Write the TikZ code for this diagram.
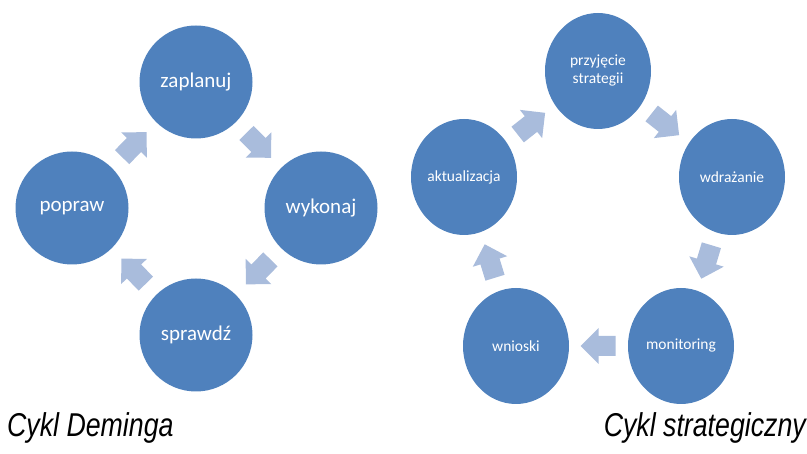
\documentclass[tikz,border=0pt]{standalone}
\usepackage{fontspec}
\setmainfont{Carlito}
\newfontfamily\capfont[FakeStretch=0.81]{Liberation Sans}
\usetikzlibrary{calc,shapes.geometric}
\definecolor{circblue}{HTML}{4F81BD}
\definecolor{arrblue}{HTML}{A9BCDC}
\newcommand\cycarr[2]{\path let \p1=($(#2)-(#1)$), \n1={atan2(\y1,\x1)} in ($(#1)!0.5!(#2)$) pic[rotate=\n1]{cycarrow};}
\begin{document}
\begin{tikzpicture}[x=1pt,y=-1pt,
  bigcirc/.style={circle, fill=circblue, minimum size=113pt, inner sep=0pt, text=white, font=\fontsize{21}{24}\selectfont},
  oval/.style={ellipse, fill=circblue, minimum width=106pt, minimum height=116pt, inner sep=0pt, text=white, font=\fontsize{15.5}{18}\selectfont, align=center},
  cycarrow/.pic={\fill[arrblue] (-17,-10) -- (0,-10) -- (0,-18) -- (18,0) -- (0,18) -- (0,10) -- (-17,10) -- cycle;},
  caption/.style={font=\capfont\itshape\fontsize{33}{36}\selectfont, inner sep=0pt}
]
\useasboundingbox (0,0) rectangle (807,454);
% Deming cycle
\node[bigcirc] (zap) at (196,82) {zaplanuj};
\node[bigcirc] (wyk) at (321,208) {wykonaj};
\node[bigcirc] (spr) at (196,335) {sprawdź};
\node[bigcirc] (pop) at (72,208) {popraw};
\cycarr{zap}{wyk}
\cycarr{wyk}{spr}
\cycarr{spr}{pop}
\cycarr{pop}{zap}
% strategic cycle
\node[oval] (prz) at (598,71) {przyjęcie\\strategii};
\node[oval] (wdr) at (732,177) {wdrażanie};
\node[oval] (mon) at (681,346) {monitoring};
\node[oval] (wni) at (516,346) {wnioski};
\node[oval] (akt) at (464,177) {aktualizacja};
\cycarr{akt}{prz}
\cycarr{prz}{wdr}
\cycarr{wdr}{mon}
\cycarr{mon}{wni}
\cycarr{wni}{akt}
% captions
\node[caption, anchor=base west] (c1) at (7,437) {Cykl Deminga};
\node[caption, anchor=base east] (c2) at (806,437) {Cykl strategiczny};
\end{tikzpicture}
\end{document}
